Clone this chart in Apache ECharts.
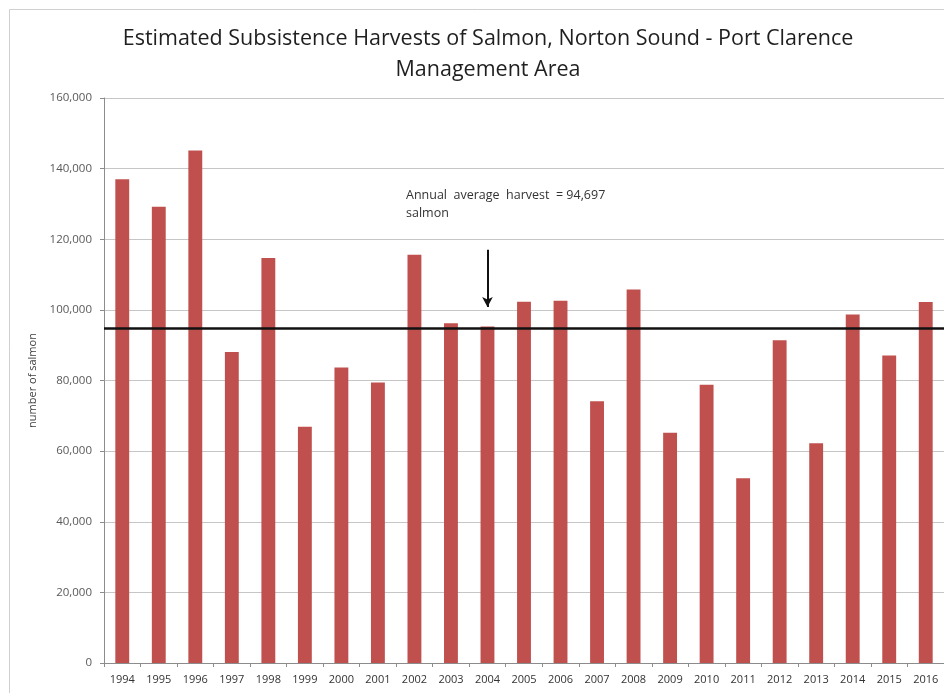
<!DOCTYPE html>
<html>
<head>
<meta charset="utf-8">
<script src="https://cdn.jsdelivr.net/npm/echarts@6/dist/echarts.min.js"></script>
<style>
  html, body { margin: 0; padding: 0; background: #ffffff; }
  #chart { width: 944px; height: 693px; }
</style>
</head>
<body>
<div id="chart"></div>
<script>
// Harvest years (category axis)
const years = ['1994','1995','1996','1997','1998','1999','2000','2001','2002','2003','2004','2005',
               '2006','2007','2008','2009','2010','2011','2012','2013','2014','2015','2016'];

// Estimated subsistence harvest, number of salmon
const harvest = [137000, 129200, 145100, 88100, 114700, 66900, 83700, 79400, 115600, 96200, 95300, 102300,
                 102600, 74100, 105800, 65200, 78800, 52300, 91400, 62200, 98700, 87100, 102200];

// Annual average over the period
const averageHarvest = 94697;

// Arrow pointing at the average line (year, from value, to value)
const arrowYear = '2004';
const arrowFrom = 117000;
const arrowTo = 100800;

// Value axis ticks
const yMin = 0, yMax = 160000, yStep = 20000;

const chart = echarts.init(document.getElementById('chart'), null, { renderer: 'canvas' });

const font = "'Open Sans', 'Noto Sans', sans-serif";

chart.setOption({
  animation: false,
  backgroundColor: '#ffffff',
  title: {
    text: 'Estimated Subsistence Harvests of Salmon, Norton Sound - Port Clarence\nManagement Area',
    left: 483,
    top: 18,
    textAlign: 'center',
    textStyle: {
      fontFamily: font,
      fontSize: 21.5,
      fontWeight: 'normal',
      color: '#1f1f1f',
      lineHeight: 31
    }
  },
  graphic: [
    {
      type: 'rect',
      left: 7, top: 7,
      shape: { width: 1000, height: 1000 },
      style: { fill: 'none', stroke: '#d0d0d0', lineWidth: 1 },
      silent: true
    },
    {
      type: 'text',
      left: 406, top: 186,
      style: {
        text: 'Annual  average  harvest  = 94,697\nsalmon',
        fontFamily: font,
        fontSize: 12.5,
        lineHeight: 18,
        fill: '#333333'
      }
    }
  ],
  grid: {
    left: 104,
    top: 98,
    width: 842,
    height: 565,
    containLabel: false
  },
  xAxis: {
    type: 'category',
    data: years,
    boundaryGap: true,
    axisLine: { show: true, lineStyle: { color: '#8c8c8c', width: 1 } },
    axisTick: { show: true, alignWithLabel: false, length: 4, lineStyle: { color: '#8c8c8c' } },
    axisLabel: {
      interval: 0,
      margin: 11,
      fontFamily: font,
      fontSize: 11,
      color: '#333333'
    },
    splitLine: { show: false }
  },
  yAxis: {
    type: 'value',
    min: yMin,
    max: yMax,
    interval: yStep,
    name: 'number of salmon',
    nameLocation: 'middle',
    nameRotate: 90,
    nameGap: 66,
    nameTextStyle: { fontFamily: font, fontSize: 11, color: '#404040' },
    axisLine: { show: true, lineStyle: { color: '#8c8c8c', width: 1 } },
    axisTick: { show: true, length: 4, lineStyle: { color: '#8c8c8c' } },
    axisLabel: {
      margin: 12,
      fontFamily: font,
      fontSize: 11.5,
      color: '#595959',
      formatter: v => v.toLocaleString('en-US')
    },
    splitLine: { show: true, lineStyle: { color: '#c6c6c6', width: 1 } }
  },
  series: [
    {
      type: 'bar',
      data: harvest,
      barWidth: '38%',
      itemStyle: { color: '#c0504d' },
      markLine: {
        silent: true,
        animation: false,
        symbol: ['none', 'none'],
        label: { show: false },
        emphasis: { disabled: true },
        lineStyle: { color: '#111111', width: 2, type: 'solid' },
        data: [
          {
            yAxis: averageHarvest,
            lineStyle: { color: '#111111', width: 2.5, type: 'solid' }
          },
          [
            { coord: [arrowYear, arrowFrom], symbol: 'none' },
            { coord: [arrowYear, arrowTo], symbol: 'arrow', symbolSize: [8, 10] }
          ]
        ]
      }
    }
  ]
});
</script>
</body>
</html>
